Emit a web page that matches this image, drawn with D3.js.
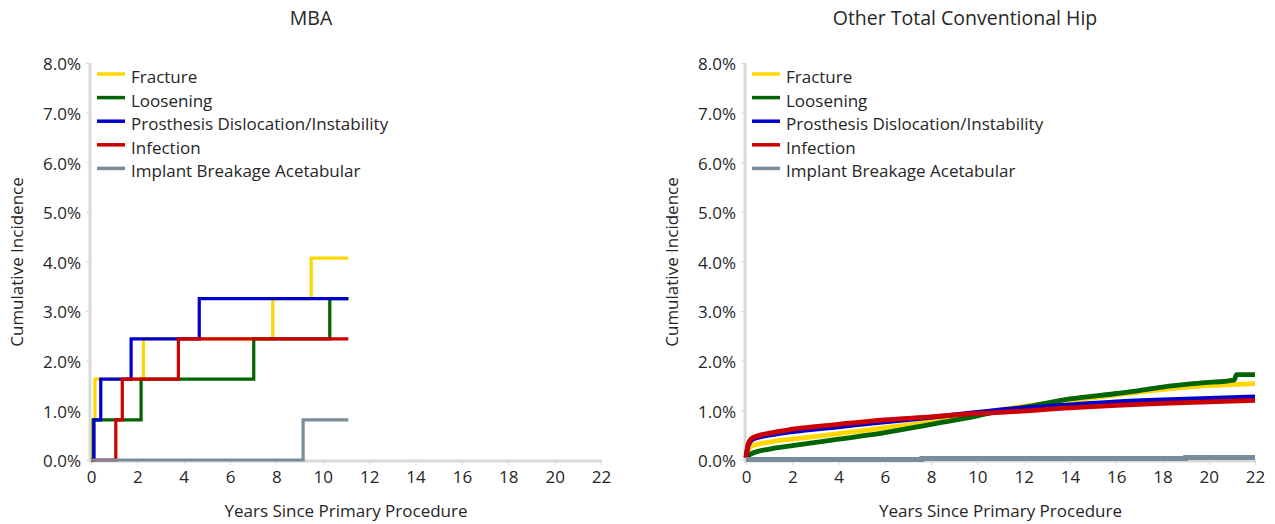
<!DOCTYPE html>
<html><head><meta charset="utf-8">
<script src="https://cdn.jsdelivr.net/npm/d3@7"></script>
<style>
body{margin:0;background:#fff;}
text{font-family:"Open Sans",sans-serif;fill:#262626;}
</style></head>
<body><svg id="c" width="1275" height="524"></svg>
<script>
// ---- data ----
const seriesNames = ["Fracture","Loosening","Prosthesis Dislocation/Instability","Infection","Implant Breakage Acetabular"];
const seriesColors = ["#FFD700","#006400","#0000CD","#CC0000","#7A8B99"];
const xTicks = [0,2,4,6,8,10,12,14,16,18,20,22];
const yTicks = [0,1,2,3,4,5,6,7,8];
const panelTitles = ["MBA","Other Total Conventional Hip"];

// MBA (step functions) [years, cumulative %]
const mbaFracture = [[0,0],[0.07,0.81],[0.17,1.63],[2.26,2.44],[7.84,3.25],[9.5,4.07],[11.1,4.07]];
const mbaLoosening = [[0,0],[0.1,0.81],[2.16,1.63],[7.02,2.44],[10.3,3.25],[11.1,3.25]];
const mbaDislocation = [[0,0],[0.13,0.81],[0.42,1.63],[1.73,2.44],[4.67,3.25],[11.1,3.25]];
const mbaInfection = [[0,0],[1.07,0.81],[1.35,1.63],[3.77,2.44],[11.1,2.44]];
const mbaBreakage = [[0,0],[9.15,0.81],[11.1,0.81]];

// Other Total Conventional Hip
const othFracture = [[0,0.05],[0.1,0.2],[0.3,0.29],[1,0.36],[2,0.42],[4,0.53],[6,0.65],[8,0.77],[10,0.93],[11,1.01],[12,1.08],[14,1.2],[16,1.31],[17,1.37],[18,1.42],[19.6,1.49],[20,1.5],[22,1.54]];
const othLoosening = [[0,0.05],[0.2,0.12],[1,0.22],[2,0.29],[4,0.42],[6,0.55],[8,0.72],[10,0.89],[11,0.99],[12,1.06],[14,1.23],[16,1.34],[17,1.4],[18,1.47],[19.6,1.55],[21.1,1.61],[21.2,1.72],[22,1.72]];
const othDislocation = [[0,0.05],[0.1,0.3],[0.3,0.42],[1,0.5],[2,0.57],[4,0.67],[6,0.77],[8,0.86],[10,0.96],[11,1.01],[14,1.11],[16,1.17],[18,1.21],[20,1.24],[22,1.27]];
const othInfection = [[0,0.05],[0.1,0.33],[0.3,0.45],[1,0.54],[2,0.62],[4,0.72],[6,0.81],[8,0.87],[10,0.94],[11,0.96],[14,1.05],[16,1.1],[18,1.14],[20,1.17],[22,1.2]];
const othBreakage = [[0,0.01],[7.5,0.01],[7.6,0.03],[18.9,0.03],[19,0.05],[22,0.05]];

const panels = [
  {title:panelTitles[0], series:[mbaFracture,mbaLoosening,mbaDislocation,mbaInfection,mbaBreakage], x0:91, x1:601, titleX:311, step:[true,true,true,true,true], lw:3.2},
  {title:panelTitles[1], series:[othFracture,othLoosening,othDislocation,othInfection,othBreakage], x0:746, x1:1255, titleX:965, step:[false,false,false,false,true], lw:4.8}
];

const svg = d3.select("#c");
const yTop = 63, yBot = 460;
const fs = "17px";

panels.forEach(p => {
  const g = svg.append("g");
  const x = d3.scaleLinear().domain([0,22]).range([p.x0,p.x1]);
  const y = d3.scaleLinear().domain([0,8]).range([yBot,yTop]);

  // axes lines
  g.append("line").attr("x1",p.x0-1).attr("x2",p.x0-1).attr("y1",yTop).attr("y2",yBot+1).attr("stroke","#d9d9d9").attr("stroke-width",3);
  g.append("line").attr("x1",p.x0-2).attr("x2",p.x1+1).attr("y1",yBot+1).attr("y2",yBot+1).attr("stroke","#d9d9d9").attr("stroke-width",3);

  // x axis
  const xa = g.append("g").attr("transform",`translate(0,${yBot+2})`)
    .call(d3.axisBottom(x).tickValues(xTicks).tickSize(3).tickPadding(6).tickFormat(d3.format("d")));
  xa.select(".domain").remove();
  xa.selectAll("line").attr("stroke","#d9d9d9");
  xa.selectAll("text").style("font-size",fs).style("fill","#262626");

  // y axis
  const ya = g.append("g").attr("transform",`translate(${p.x0-2},0)`)
    .call(d3.axisLeft(y).tickValues(yTicks).tickSize(3).tickPadding(5).tickFormat(d=>d.toFixed(1)+"%"));
  ya.select(".domain").remove();
  ya.selectAll("line").attr("stroke","#d9d9d9");
  ya.selectAll("text").style("font-size",fs).style("fill","#262626").attr("dy","0.4em");

  // series
  p.series.forEach((s,i) => {
    const line = d3.line().x(d=>x(d[0])).y(d=>y(d[1]))
      .curve(p.step[i] ? d3.curveStepAfter : d3.curveMonotoneX);
    g.append("path").datum(s).attr("d",line).attr("fill","none")
      .attr("stroke",seriesColors[i]).attr("stroke-width",p.lw).attr("stroke-linejoin","miter");
  });

  // legend
  const lg = g.append("g");
  seriesNames.forEach((n,i) => {
    const yy = 74 + i*23.6;
    lg.append("line").attr("x1",p.x0+6).attr("x2",p.x0+34).attr("y1",yy).attr("y2",yy)
      .attr("stroke",seriesColors[i]).attr("stroke-width",3.5);
    lg.append("text").attr("x",p.x0+40).attr("y",yy+3).attr("dy","0.35em")
      .style("font-size",fs).text(n);
  });

  // titles
  g.append("text").attr("x",p.titleX).attr("y",18).attr("dy","0.35em").attr("text-anchor","middle")
    .style("font-size","19.5px").text(p.title);
  g.append("text").attr("transform",`translate(${p.x0-74},262) rotate(-90)`).attr("dy","0.35em")
    .attr("text-anchor","middle").style("font-size",fs).text("Cumulative Incidence");
  g.append("text").attr("x",(p.x0+p.x1)/2).attr("y",511).attr("dy","0.35em").attr("text-anchor","middle")
    .style("font-size",fs).text("Years Since Primary Procedure");
});
</script></body></html>
